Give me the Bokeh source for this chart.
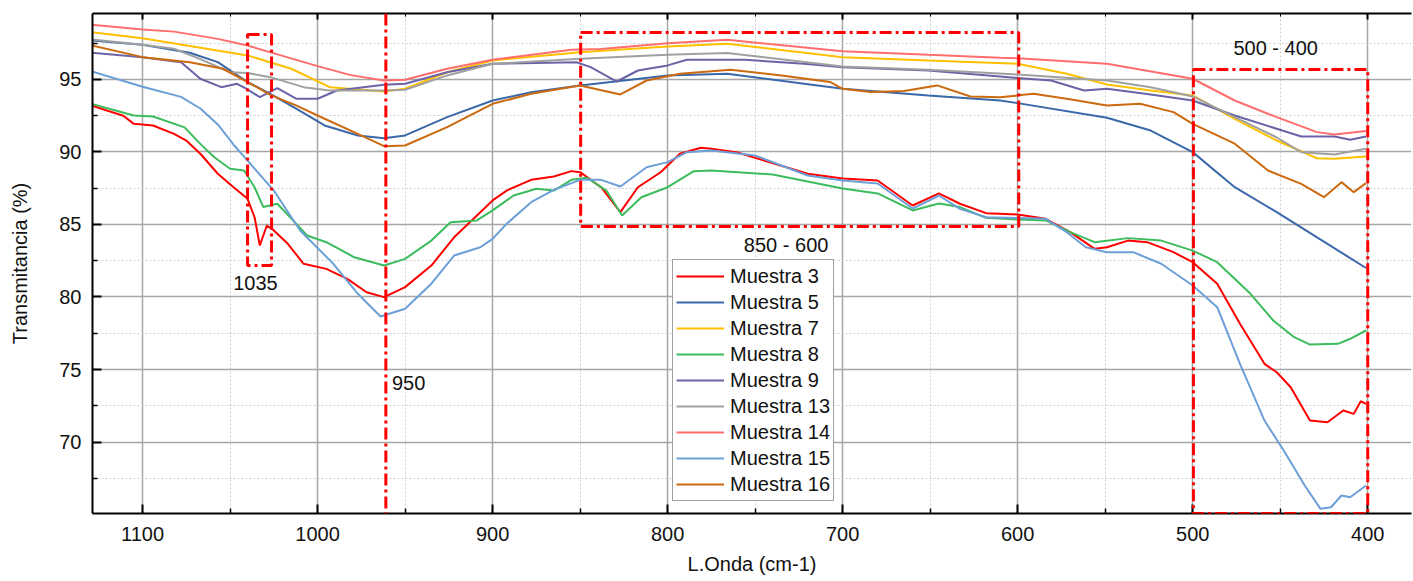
from bokeh.plotting import figure
from bokeh.models import Range1d, FixedTicker, LinearAxis, Span, BoxAnnotation, Label
from bokeh.embed import file_html
from bokeh.resources import INLINE

# ---------------- data (wavenumber cm-1, transmittance %) ----------------
x_m3 = [1129, 1111, 1105, 1094, 1082, 1075, 1067, 1057, 1048, 1040, 1036, 1033, 1029, 1025, 1017, 1008, 995,
        983, 972, 962, 950, 935, 922, 907, 900, 892, 878, 865, 855, 850, 838, 827, 817, 804, 793, 781, 775,
        760, 720, 700, 680, 660, 645, 633, 618, 600, 584, 570, 556, 549, 537, 526, 511, 500, 486, 473, 459,
        452, 444, 433, 423, 414, 408, 404, 401]
y_m3 = [93.2, 92.5, 91.94, 91.83, 91.25, 90.79, 89.88, 88.5, 87.57, 86.77, 85.5, 83.55, 84.93, 84.59, 83.67,
        82.29, 81.94, 81.25, 80.33, 79.99, 80.68, 82.17, 84.12, 85.85, 86.66, 87.34, 88.08, 88.31, 88.68, 88.61,
        87.57, 85.85, 87.57, 88.6, 89.88, 90.29, 90.22, 89.97, 88.5, 88.17, 88.03, 86.31, 87.14, 86.43, 85.78,
        85.69, 85.39, 84.47, 83.32, 83.43, 83.89, 83.78, 83.09, 82.4, 80.91, 78.15, 75.39, 74.81, 73.78, 71.48,
        71.36, 72.17, 71.94, 72.81, 72.63]

x_m5 = [1129, 1100, 1073, 1057, 1040, 1027, 1012, 996, 977, 962, 950, 926, 900, 878, 850, 800, 766, 700, 651,
        610, 600, 549, 524, 500, 476, 452, 401]
y_m5 = [97.69, 97.39, 96.84, 96.2, 94.82, 94.01, 92.98, 91.83, 91.14, 90.95, 91.14, 92.4, 93.55, 94.12, 94.59,
        95.28, 95.39, 94.36, 93.9, 93.55, 93.37, 92.36, 91.48, 89.99, 87.57, 85.85, 82.0]

x_m7 = [1129, 1100, 1040, 1015, 993, 962, 950, 926, 900, 850, 800, 766, 700, 651, 600, 572, 549, 524, 500, 476,
        452, 429, 419, 401]
y_m7 = [98.26, 97.85, 96.66, 95.74, 94.47, 94.17, 94.36, 95.5, 96.31, 96.88, 97.27, 97.46, 96.54, 96.31, 96.08,
        95.39, 94.66, 94.24, 93.9, 92.29, 90.79, 89.57, 89.53, 89.69]

x_m8 = [1129, 1105, 1094, 1076, 1067, 1059, 1050, 1042, 1036, 1031, 1023, 1014, 1006, 995, 979, 962, 950, 935,
        924, 909, 900, 888, 875, 865, 855, 846, 835, 826, 815, 800, 785, 775, 740, 720, 700, 680, 660, 645,
        633, 618, 600, 584, 570, 556, 537, 518, 500, 486, 467, 454, 442, 433, 417, 410, 401]
y_m8 = [93.32, 92.52, 92.45, 91.7, 90.56, 89.64, 88.84, 88.72, 87.57, 86.2, 86.43, 85.28, 84.24, 83.78, 82.74,
        82.17, 82.63, 83.89, 85.16, 85.28, 85.97, 87.0, 87.46, 87.34, 88.08, 88.22, 87.34, 85.62, 86.88, 87.57,
        88.68, 88.73, 88.45, 87.97, 87.48, 87.14, 85.97, 86.45, 86.2, 85.46, 85.34, 85.28, 84.47, 83.78, 84.06,
        83.89, 83.2, 82.4, 80.22, 78.38, 77.23, 76.72, 76.77, 77.12, 77.69]

x_m9 = [1129, 1100, 1078, 1067, 1055, 1046, 1040, 1033, 1023, 1012, 1000, 989, 962, 950, 926, 900, 852, 844,
        829, 817, 800, 789, 756, 722, 700, 651, 600, 581, 562, 549, 524, 500, 476, 452, 438, 419, 410, 401]
y_m9 = [96.84, 96.54, 96.19, 95.05, 94.47, 94.7, 94.31, 93.78, 94.4, 93.67, 93.67, 94.24, 94.63, 94.7, 95.5,
        96.08, 96.19, 95.85, 94.86, 95.62, 95.97, 96.36, 96.36, 96.08, 95.85, 95.62, 95.11, 94.93, 94.24, 94.36,
        93.97, 93.55, 92.52, 91.6, 91.07, 91.07, 90.84, 91.07]

x_m13 = [1129, 1100, 1082, 1067, 1050, 1040, 1027, 1008, 993, 962, 950, 926, 900, 850, 800, 766, 700, 651, 600,
         549, 524, 500, 476, 452, 438, 419, 401]
y_m13 = [97.76, 97.39, 97.12, 96.4, 95.5, 95.45, 95.16, 94.47, 94.24, 94.24, 94.29, 95.28, 96.08, 96.43, 96.7,
         96.82, 95.9, 95.67, 95.34, 94.93, 94.47, 93.83, 92.4, 91.0, 89.99, 89.83, 90.22]

x_m14 = [1129, 1100, 1082, 1057, 1040, 1000, 981, 962, 950, 926, 900, 855, 838, 800, 766, 700, 651, 610, 600,
         549, 500, 476, 452, 429, 419, 401]
y_m14 = [98.77, 98.45, 98.3, 97.8, 97.34, 95.92, 95.3, 94.93, 94.98, 95.74, 96.36, 97.05, 97.1, 97.5, 97.74,
         96.95, 96.7, 96.5, 96.47, 96.08, 95.05, 93.55, 92.4, 91.37, 91.2, 91.44]

x_m15 = [1129, 1100, 1078, 1067, 1057, 1048, 1040, 1025, 1010, 991, 977, 964, 950, 935, 922, 907, 900, 892, 878,
         865, 850, 838, 827, 812, 800, 789, 775, 750, 720, 700, 680, 660, 645, 633, 618, 600, 584, 572, 561,
         549, 534, 518, 500, 486, 473, 459, 448, 436, 427, 421, 415, 410, 401]
y_m15 = [95.55, 94.5, 93.8, 93.0, 91.9, 90.5, 89.4, 87.34, 84.59, 82.29, 80.22, 78.66, 79.19, 80.92, 82.86,
         83.43, 84.01, 85.05, 86.54, 87.39, 88.08, 88.08, 87.62, 88.95, 89.3, 89.99, 90.1, 89.76, 88.38, 88.03,
         87.83, 86.1, 87.0, 86.08, 85.5, 85.44, 85.39, 84.47, 83.43, 83.09, 83.09, 82.29, 80.79, 79.3, 75.39,
         71.48, 69.41, 67.0, 65.39, 65.5, 66.31, 66.19, 67.0]

x_m16 = [1129, 1100, 1073, 1054, 1040, 1027, 1012, 996, 977, 962, 950, 926, 900, 878, 850, 827, 812, 793, 764,
         735, 707, 700, 684, 665, 646, 627, 610, 591, 572, 549, 530, 511, 500, 476, 457, 438, 425, 415, 408, 401]
y_m16 = [97.34, 96.54, 96.19, 95.74, 94.82, 93.94, 93.2, 92.29, 91.25, 90.4, 90.45, 91.71, 93.32, 94.01, 94.59,
         93.97, 94.93, 95.39, 95.67, 95.28, 94.82, 94.36, 94.13, 94.2, 94.59, 93.83, 93.78, 94.01, 93.67, 93.21,
         93.32, 92.75, 91.94, 90.57, 88.72, 87.8, 86.88, 87.92, 87.23, 87.85]

series_names = ["Muestra 3", "Muestra 5", "Muestra 7", "Muestra 8", "Muestra 9",
                "Muestra 13", "Muestra 14", "Muestra 15", "Muestra 16"]
series_x = [x_m3, x_m5, x_m7, x_m8, x_m9, x_m13, x_m14, x_m15, x_m16]
series_y = [y_m3, y_m5, y_m7, y_m8, y_m9, y_m13, y_m14, y_m15, y_m16]
series_colors = ["#FF0000", "#3A68A8", "#FFC000", "#3CBC5C", "#6A64A6",
                 "#A0A0A0", "#FF6E6E", "#6C9FD8", "#CC6A10"]

x_major = [400, 500, 600, 700, 800, 900, 1000, 1100]
x_minor = [450, 550, 650, 750, 850, 950, 1050]
y_major = [70, 75, 80, 85, 90, 95]
y_minor = [67.5, 72.5, 77.5, 82.5, 87.5, 92.5, 97.5]

X_LEFT, X_RIGHT = 1128.6, 375.0
Y_BOTTOM, Y_TOP = 65.07, 99.55

FONT = "Liberation Sans"
FS = "20px"

p = figure(width=1413, height=581, output_backend="svg", toolbar_location=None,
           x_range=Range1d(X_LEFT, X_RIGHT), y_range=Range1d(Y_BOTTOM, Y_TOP),
           min_border_left=92, min_border_right=2, min_border_top=13, min_border_bottom=68,
           x_axis_label="L.Onda (cm-1)", y_axis_label="Transmitancia (%)")
p.outline_line_color = None
p.background_fill_color = "white"
p.border_fill_color = "white"

for ax, maj, mnr in ((p.xaxis[0], x_major, x_minor), (p.yaxis[0], y_major, y_minor)):
    ax.ticker = FixedTicker(ticks=maj, minor_ticks=mnr)
    ax.major_tick_in = 9
    ax.major_tick_out = 0
    ax.minor_tick_in = 5
    ax.minor_tick_out = 0
    ax.axis_line_width = 2
    ax.axis_line_color = "black"
    ax.major_tick_line_width = 2
    ax.minor_tick_line_width = 1.5
    ax.major_tick_line_color = "black"
    ax.minor_tick_line_color = "black"
    ax.major_label_text_font = FONT
    ax.major_label_text_font_size = FS
    ax.major_label_text_color = "#111111"
    ax.axis_label_text_font = FONT
    ax.axis_label_text_font_size = FS
    ax.axis_label_text_font_style = "normal"
    ax.axis_label_text_color = "#111111"

p.xaxis[0].major_label_standoff = 13
p.xaxis[0].axis_label_standoff = 9
p.yaxis[0].major_label_standoff = 11
p.yaxis[0].axis_label_standoff = 25

top = LinearAxis(ticker=FixedTicker(ticks=x_major, minor_ticks=x_minor),
                 major_tick_in=6, major_tick_out=0, minor_tick_in=3, minor_tick_out=0,
                 axis_line_width=2, axis_line_color="black", major_tick_line_width=2,
                 major_label_text_font_size="0px", major_label_standoff=0)
top.major_label_overrides = {t: "" for t in x_major}
p.add_layout(top, "above")

for g, maj, mnr in ((p.xgrid[0], x_major, x_minor), (p.ygrid[0], y_major, y_minor)):
    g.ticker = FixedTicker(ticks=maj, minor_ticks=mnr)
    g.grid_line_color = "#A6A6A6"
    g.grid_line_width = 1.5
    g.minor_grid_line_color = "#CFCFCF"
    g.minor_grid_line_dash = "2 2"
    g.minor_grid_line_width = 1

for name, xs, ys, c in zip(series_names, series_x, series_y, series_colors):
    p.line(xs, ys, line_color=c, line_width=2, legend_label=name)

# ---------------- annotations ----------------
RED = "#FF0000"
DASH = "12 4 3 4"
p.add_layout(Span(location=961, dimension="height", line_color=RED, line_width=3, line_dash=DASH))
boxes = [(1040, 1026.3, 82.17, 98.1), (849.7, 599.4, 84.86, 98.24), (499.6, 400.0, Y_BOTTOM, 95.69)]
for l, r, b, t in boxes:
    p.add_layout(BoxAnnotation(left=l, right=r, bottom=b, top=t, fill_alpha=0, fill_color=None,
                               line_color=RED, line_width=3, line_dash=DASH, line_alpha=1))

labels = [("1035", 1035.5, 80.95, "center"), ("950", 957.5, 74.07, "left"),
          ("850 - 600", 732.3, 83.6, "center"), ("500 - 400", 452.6, 97.17, "center")]
for txt, lx, ly, al in labels:
    p.add_layout(Label(x=lx, y=ly, text=txt, text_font=FONT, text_font_size=FS, text_color="#111111",
                       text_align=al, text_baseline="middle"))

lg = p.legend[0]
lg.location = (580, 12)
lg.glyph_width = 48
lg.glyph_height = 26
lg.label_height = 26
lg.spacing = 0
lg.padding = 3
lg.margin = 0
lg.label_standoff = 6
lg.label_text_font = FONT
lg.label_text_font_size = FS
lg.label_text_color = "#111111"
lg.border_line_color = "#404040"
lg.border_line_width = 1.5
lg.background_fill_alpha = 1

open("out.html", "w").write(file_html(p, INLINE))
